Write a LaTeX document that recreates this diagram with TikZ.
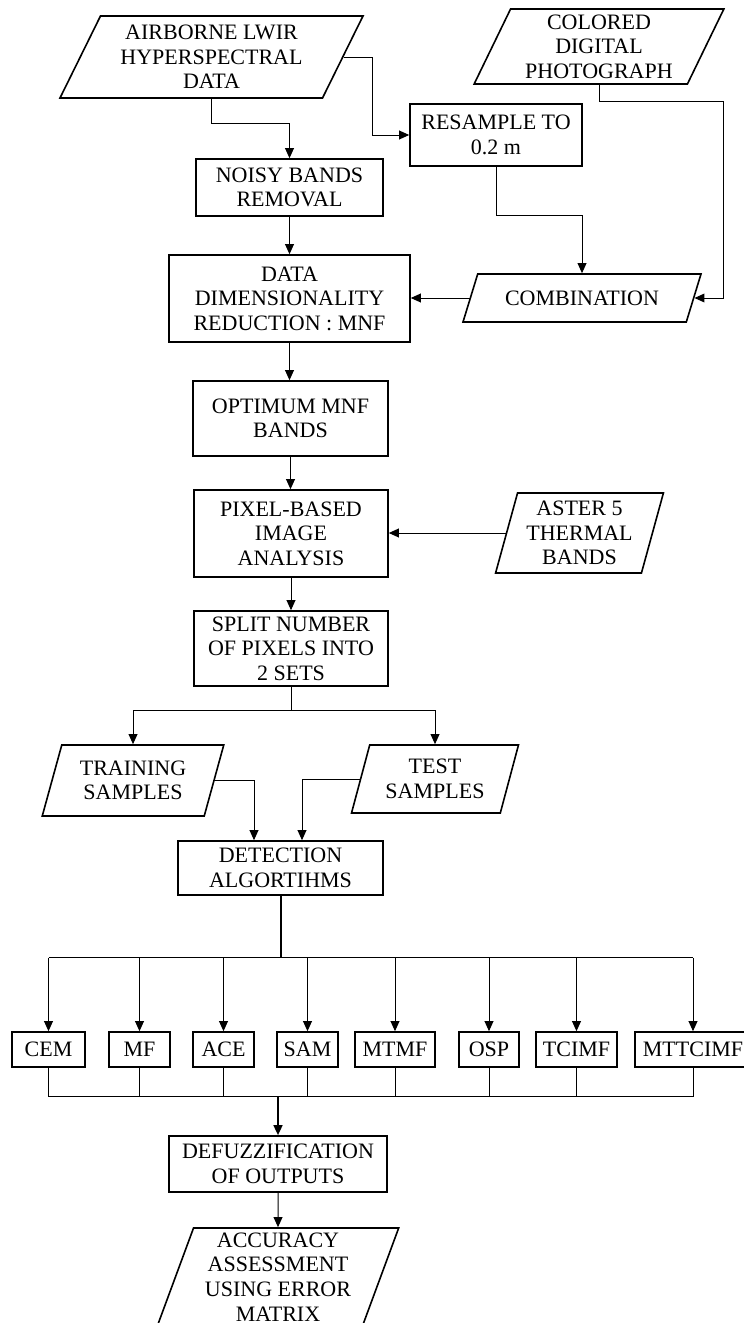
\documentclass[tikz,border=0pt]{standalone}
\usepackage{fontspec}
\setmainfont{Liberation Serif}
\usetikzlibrary{shapes.geometric,arrows.meta,calc}
\begin{document}
\begin{tikzpicture}[x=0.5pt,y=-0.5pt,
  every node/.style={font=\fontsize{11}{12.3}\selectfont, align=center},
  pbox/.style={draw, line width=0.8pt, inner sep=2pt},
  para/.style={draw, line width=0.8pt, trapezium, trapezium stretches=true, inner xsep=1pt, inner ysep=0pt},
  arr/.style={-{Triangle[length=5pt,width=4.4pt]}, line width=0.5pt},
  ln/.style={line width=0.5pt}]
\clip (0,0) rectangle (744,1323);
% top inputs
\node[para, trapezium left angle=62, trapezium right angle=118, minimum width=151.5pt, minimum height=41pt] (air) at (211.5,57) {AIRBORNE LWIR\\HYPERSPECTRAL\\DATA};
\node[para, trapezium left angle=64, trapezium right angle=116, minimum width=125pt, minimum height=37.5pt] (col) at (599,46.5) {COLORED\\DIGITAL\\PHOTOGRAPH};
\node[pbox, minimum width=86pt, minimum height=31pt] (res) at (496,135) {RESAMPLE TO\\0.2 m};
\node[pbox, minimum width=93.5pt, minimum height=28.5pt] (noisy) at (289.5,187.5) {NOISY BANDS\\REMOVAL};
\node[pbox, minimum width=120.5pt, minimum height=43.5pt] (ddr) at (289.5,298.5) {DATA\\DIMENSIONALITY\\REDUCTION : MNF};
\node[para, trapezium left angle=53, trapezium right angle=127, minimum width=120pt, minimum height=24pt] (comb) at (582,298) {COMBINATION};
\node[pbox, minimum width=97.5pt, minimum height=37.5pt] (opt) at (290.5,418.5) {OPTIMUM MNF\\BANDS};
\node[pbox, minimum width=97pt, minimum height=43.5pt] (pix) at (291,533.5) {PIXEL-BASED\\IMAGE\\ANALYSIS};
\node[para, trapezium left angle=73, trapezium right angle=107, minimum width=84.5pt, minimum height=40pt] (aster) at (579.5,533) {ASTER 5\\THERMAL\\BANDS};
\node[pbox, minimum width=97pt, minimum height=37.5pt] (split) at (291,648.5) {SPLIT NUMBER\\OF PIXELS INTO\\2 SETS};
\node[para, trapezium left angle=69, trapezium right angle=111, minimum width=91pt, minimum height=35.5pt] (train) at (133,780.5) {TRAINING\\SAMPLES};
\node[para, trapezium left angle=70, trapezium right angle=110, minimum width=84pt, minimum height=34pt] (test) at (435,779) {TEST\\SAMPLES};
\node[pbox, minimum width=102.5pt, minimum height=27pt] (det) at (280.5,868) {DETECTION\\ALGORTIHMS};
% algorithms
\node[pbox, minimum width=36.5pt, minimum height=17.5pt] (cem) at (48.5,1049.5) {CEM};
\node[pbox, minimum width=30.5pt, minimum height=17.5pt] (mf) at (139.5,1049.5) {MF};
\node[pbox, minimum width=30.5pt, minimum height=17.5pt] (ace) at (223.5,1049.5) {ACE};
\node[pbox, minimum width=30.5pt, minimum height=17.5pt] (sam) at (307.5,1049.5) {SAM};
\node[pbox, minimum width=40pt, minimum height=17.5pt] (mtmf) at (395,1049.5) {MTMF};
\node[pbox, minimum width=30pt, minimum height=17.5pt] (osp) at (489,1049.5) {OSP};
\node[pbox, minimum width=40.5pt, minimum height=17.5pt] (tcimf) at (576.5,1049.5) {TCIMF};
\node[pbox, minimum width=58pt, minimum height=17.5pt] (mtt) at (693,1049.5) {MTTCIMF};
\node[pbox, minimum width=109pt, minimum height=28pt] (defuzz) at (278,1164) {DEFUZZIFICATION\\OF OUTPUTS};
\node[para, trapezium left angle=70, trapezium right angle=110, minimum width=120.75pt, minimum height=49pt] (acc) at (278,1277) {ACCURACY\\ASSESSMENT\\USING ERROR\\MATRIX};
% connectors
\draw[arr] (air.south) -- ++(0,25) -| (noisy.north);
\draw[arr] (air.east) -- ++(29,0) |- (res.west);
\draw[arr] (noisy.south) -- (ddr.north);
\draw[arr] (res.south) -- ++(0,49) -| (comb.north);
\draw[arr] (col.south) -- ++(0,17) -| ($(comb.east)+(29,0)$) -- (comb.east);
\draw[arr] (comb.west) -- (comb.west -| ddr.east);
\draw[arr] (ddr.south) -- (ddr.south |- opt.north);
\draw[arr] (opt.south) -- (opt.south |- pix.north);
\draw[arr] (aster.west) -- (aster.west -| pix.east);
\draw[arr] (pix.south) -- (split.north);
\draw[ln] (split.south) -- ++(0,24) coordinate (sj);
\draw[arr] (sj) -| (train.north);
\draw[arr] (sj) -| (test.north);
\draw[arr] (train.east) -| ($(det.north)+(-26.5,0)$);
\draw[arr] (test.west) -| ($(det.north)+(21.5,0)$);
\draw[line width=1pt] (det.south) -- ++(0,62) coordinate (bt);
\draw[ln] (bt -| cem.north) -- (bt -| mtt.north);
\foreach \n in {cem,mf,ace,sam,mtmf,osp,tcimf,mtt} \draw[arr] (bt -| \n.north) -- (\n.north);
\draw[ln] (cem.south) -- ++(0,29) coordinate (bb) -- (bb -| mtt.south) -- (mtt.south);
\foreach \n in {mf,ace,sam,mtmf,osp,tcimf} \draw[ln] (\n.south) -- (\n.south |- bb);
\draw[arr, line width=1pt] (bb -| defuzz.north) -- (defuzz.north);
\draw[arr] (defuzz.south) -- (acc.north);
\end{tikzpicture}
\end{document}
